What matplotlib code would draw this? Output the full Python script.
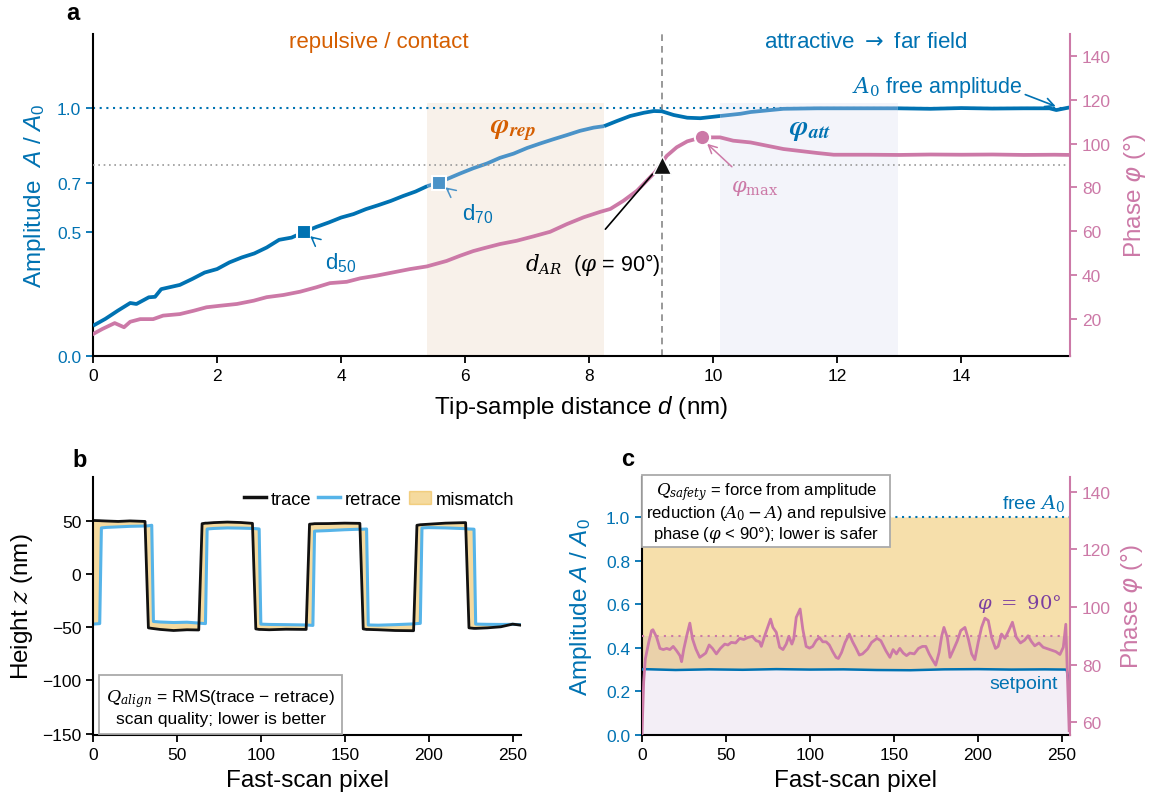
import numpy as np
import matplotlib
matplotlib.use('Agg')
import matplotlib.pyplot as plt
from matplotlib.patches import Patch
from matplotlib.lines import Line2D

plt.rcParams['font.family'] = ['Liberation Sans', 'DejaVu Sans']
plt.rcParams['mathtext.fontset'] = 'dejavuserif'
plt.rcParams['mathtext.rm'] = 'Liberation Sans'
plt.rcParams['mathtext.it'] = 'Liberation Sans:italic'
plt.rcParams['mathtext.bf'] = 'Liberation Sans:bold'
plt.rcParams['axes.linewidth'] = 1.5

BLUE = '#0072B2'
LBLUE = '#4b93c8'
PINK = '#CC79A7'
ORANGE = '#D55E00'
SKY = '#56B4E9'
AMBER = '#E69F00'
PURPLE = '#7b3fa0'
LAVENDER = '#8a5aa8'

# ---------------- panel a data ----------------
d_amp = [0, 0.2, 0.4, 0.6, 0.7, 0.9, 1.0, 1.1, 1.4, 1.6, 1.8, 2.0, 2.2, 2.4, 2.6, 2.8,
         3.0, 3.2, 3.4, 3.6, 3.8, 4.0, 4.2, 4.4, 4.6, 4.8, 5.0, 5.2, 5.39, 5.57, 5.76,
         5.92, 6.13, 6.35, 6.56, 6.78, 7.0, 7.21, 7.42, 7.64, 7.85, 8.07, 8.24, 8.45,
         8.66, 8.88, 9.04, 9.17, 9.36, 9.58, 9.79, 10.11, 10.44, 10.6, 11.13, 11.67,
         12.2, 12.97, 13.5, 14.0, 14.5, 15.0, 15.42, 15.53, 15.75]
amplitude = [0.122, 0.15, 0.183, 0.214, 0.21, 0.237, 0.239, 0.27, 0.287, 0.311, 0.337,
             0.351, 0.378, 0.398, 0.414, 0.438, 0.469, 0.478, 0.50, 0.521, 0.539, 0.559,
             0.573, 0.593, 0.609, 0.626, 0.646, 0.664, 0.686, 0.70, 0.72, 0.737, 0.758,
             0.777, 0.80, 0.817, 0.84, 0.858, 0.875, 0.892, 0.909, 0.922, 0.928, 0.949,
             0.969, 0.982, 0.989, 0.988, 0.973, 0.962, 0.96, 0.969, 0.978, 0.985, 0.998,
             1.0, 1.0, 1.0, 0.998, 1.001, 0.999, 1.0, 1.0, 0.993, 1.004]
d_phase = [0, 0.15, 0.35, 0.5, 0.6, 0.76, 0.97, 1.13, 1.4, 1.62, 1.83, 2.05, 2.32, 2.59,
           2.8, 3.07, 3.34, 3.6, 3.82, 4.09, 4.31, 4.57, 4.84, 5.11, 5.38, 5.7, 5.92,
           6.13, 6.3, 6.56, 6.83, 7.1, 7.37, 7.64, 7.91, 8.18, 8.34, 8.55, 8.77, 8.98,
           9.06, 9.25, 9.41, 9.58, 9.81, 10.11, 10.32, 10.6, 11.13, 11.67, 11.94, 12.5,
           13.0, 13.5, 14.0, 14.5, 15.0, 15.5, 15.75]
phase = [13.2, 15.5, 18.2, 16.3, 18.8, 20.0, 20.0, 21.6, 22.3, 23.8, 25.4, 26.1, 26.9,
         28.4, 30.0, 31.0, 32.5, 34.5, 36.4, 37.0, 38.6, 39.8, 41.3, 42.8, 44.0, 46.5,
         48.9, 51.0, 52.3, 54.2, 55.7, 57.7, 59.8, 63.3, 66.4, 68.9, 70.2, 73.9, 78.5,
         84.6, 86.9, 94.4, 98.3, 101.0, 102.8, 102.8, 101.3, 100.5, 97.5, 95.7, 94.9,
         94.9, 94.8, 95.0, 94.9, 95.0, 94.8, 94.9, 94.8]
rep_span = (5.39, 8.24)
att_span = (10.11, 12.97)
d50, d70, d_ar = 3.4, 5.57, 9.18
phi_max_d, phi_max = 9.81, 102.8

# ---------------- panel b data ----------------
pixel_b = [0, 4, 5, 8, 15, 22, 31, 33, 35, 36, 40, 48, 56, 63, 65, 67, 68, 72, 80, 88,
           95, 97, 99, 100, 105, 115, 127, 129, 131, 132, 140, 150, 159, 161, 163, 164,
           170, 180, 191, 193, 195, 196, 200, 210, 222, 224, 227, 228, 235, 243, 250, 255]
trace = [50.5, 50.3, 50.2, 50.0, 49.6, 50.1, 49.6, -50.5, -51.0, -51.2, -52.0, -53.0,
         -52.3, -52.5, 47.5, 48.0, 48.0, 48.5, 49.0, 48.6, 47.8, -51.5, -52.0, -52.0,
         -52.3, -51.8, -52.0, 47.0, 47.3, 47.5, 47.6, 48.0, 47.8, -51.5, -52.0, -52.0,
         -52.3, -53.0, -53.2, 46.0, 46.5, 46.6, 47.0, 48.0, 48.5, -50.5, -51.0, -51.0,
         -50.5, -49.5, -47.0, -48.0]
retrace = [-47.0, -46.5, 43.5, 44.0, 44.5, 45.0, 45.3, 45.5, 46.0, -44.5, -45.0, -45.5,
           -45.2, -46.0, -46.3, -46.5, 42.5, 43.0, 43.5, 43.3, 43.0, 42.8, 42.5, -47.0,
           -47.3, -47.5, -47.8, -48.0, -48.2, 40.5, 41.0, 41.8, 42.3, 42.3, 42.5, -47.8,
           -48.0, -47.5, -46.8, -46.5, -46.3, 43.5, 43.8, 43.5, 42.8, 42.5, 42.3, -47.0,
           -47.2, -47.3, -47.2, -47.5]

# ---------------- panel c data ----------------
pixel_c_phase = [0, 1, 2, 4, 5.7, 6.5, 8.7, 10.7, 12.7, 14.7, 16.6, 18.6, 20.6, 22.6, 23.6,
                 24.9, 26.9, 28.5, 30.1, 32.1, 34.4, 36.4, 38, 40, 42, 44.3, 46.7, 49.3,
                 51.2, 53.2, 55.8, 58.2, 60.6, 63.1, 65.7, 68, 70, 71.1, 73.1, 74.7, 76.6,
                 78, 80, 82, 84, 85.9, 87.5, 89.3, 90.4, 91.9, 94.2, 95.8, 97.8, 99.8,
                 101.7, 103.7, 105.7, 107.7, 109.7, 111.6, 113.6, 115.6, 117, 118.9, 121,
                 123.5, 125.5, 127.5, 129.5, 131.4, 134.4, 136.8, 140, 142.3, 145.3, 147.7,
                 149.6, 151.6, 153.6, 155.6, 157.6, 159.6, 162.2, 164.7, 167.1, 169.1,
                 171.1, 173, 175, 177, 178.6, 179.9, 181.9, 183.5, 185.3, 187.9, 189.9,
                 192.4, 194.4, 196.4, 198.3, 200.3, 202.3, 204.3, 206.3, 208.3, 210.6,
                 212.2, 214.2, 216.2, 218.5, 220.7, 223, 225.5, 228, 230, 232, 234, 236.5,
                 239, 241.5, 244, 246.5, 249, 251, 252.5, 253.5, 254.5]
phase_c = [56, 74, 82, 87.7, 91.8, 92.1, 89.5, 85.6, 85.2, 85.6, 85.2, 86.3, 84.8, 83.1,
           81.0, 85.4, 90.6, 94.4, 88.9, 85.4, 82.5, 83.3, 84.0, 86.8, 85.6, 83.7, 85.6,
           87.1, 86.8, 87.7, 87.5, 89.1, 88.7, 89.4, 89.8, 88.3, 87.9, 86.3, 90.0, 92.6,
           95.8, 92.9, 91.2, 86.0, 85.2, 87.1, 89.8, 87.1, 88.9, 96.4, 99.3, 92.3, 86.3,
           85.7, 86.3, 88.3, 89.4, 87.9, 87.9, 86.8, 84.5, 82.5, 82.1, 84.2, 87.7, 90.6,
           87.9, 85.7, 83.3, 83.7, 85.4, 87.7, 89.1, 88.3, 84.8, 82.5, 85.2, 83.7, 85.6,
           84.0, 83.1, 84.0, 83.7, 85.6, 86.3, 86.3, 83.7, 81.7, 79.8, 84.2, 90.0, 92.9,
           89.4, 82.5, 84.8, 88.3, 91.8, 92.9, 88.9, 83.7, 81.7, 87.7, 92.9, 96.1, 95.3,
           89.4, 85.6, 86.3, 90.6, 89.1, 91.8, 94.7, 89.5, 87.5, 88.5, 90.0, 88.0, 86.5,
           87.5, 86.0, 85.5, 85.0, 84.5, 83.5, 86.0, 94.0, 75.0, 57.0]
pixel_c_amp = [0, 1, 20, 40, 60, 80, 100, 120, 140, 160, 180, 200, 220, 240, 252, 253, 255]
amplitude_c = [0.30, 0.302, 0.298, 0.301, 0.299, 0.302, 0.300, 0.301, 0.298, 0.297, 0.301,
               0.302, 0.300, 0.301, 0.300, 0.299, 0.22]

# ---------------- figure ----------------
fig = plt.figure(figsize=(11.51, 8.03), dpi=100)
W, H = 1151.0, 803.0


def box(l, r, t, b):
    return [l / W, 1 - b / H, (r - l) / W, (b - t) / H]


# ======================= panel a =======================
ax = fig.add_axes(box(93, 1070, 35, 357))
ax.set_xlim(0, 15.75)
ax.set_ylim(0, 1.30)
ax2 = ax.twinx()
ax2.set_ylim(3.2, 149.9)

ax.fill_between(rep_span, 0, 1.02, color='#f8f1ea', lw=0, zorder=0)
ax.fill_between(att_span, 0, 1.02, color='#f3f4fa', lw=0, zorder=0)
ax.axhline(1.0, color=BLUE, lw=1.5, ls=(0, (1, 2.2)), zorder=1)
ax2.axhline(90, color='#999999', lw=1.2, ls=(0, (1, 2.2)), zorder=1)
ax.axvline(d_ar, color='#888888', lw=1.2, ls=(0, (4, 3)), zorder=1)

da = np.array(d_amp)
aa = np.array(amplitude)
bounds = [da[0], rep_span[0], rep_span[1], att_span[0], att_span[1], da[-1]]
seg_cols = [BLUE, LBLUE, BLUE, LBLUE, BLUE]
for i in range(5):
    m = (da >= bounds[i] - 1e-9) & (da <= bounds[i + 1] + 1e-9)
    ax.plot(da[m], aa[m], color=seg_cols[i], lw=2.7, solid_capstyle='butt', zorder=3)

ax.plot([d50], [0.5], 's', ms=10, color=BLUE, mec='white', mew=1.5, zorder=5)
ax.plot([d70], [0.7], 's', ms=10, color=LBLUE, mec='white', mew=1.5, zorder=5)

ax2.plot(d_phase, phase, color=PINK, lw=2.7, zorder=3)
ax2.plot([phi_max_d], [phi_max], 'o', ms=11, color=PINK, mec='white', mew=1.5, zorder=5)
ax2.plot([d_ar], [90], '^', ms=13, color='#111111', mec='white', mew=1.0, zorder=6)

for s in ['top', 'right']:
    ax.spines[s].set_visible(False)
for s in ['top', 'left', 'bottom']:
    ax2.spines[s].set_visible(False)
ax2.spines['right'].set_color(PINK)

ax.set_xticks([0, 2, 4, 6, 8, 10, 12, 14])
ax.set_yticks([0, 0.5, 0.7, 1.0])
ax.set_yticklabels(['0.0', '0.5', '0.7', '1.0'])
ax.tick_params(axis='y', colors=BLUE, labelsize=12.5, length=5, width=1.3)
ax.tick_params(axis='x', labelsize=12.5, length=5, width=1.3)
ax2.set_yticks([20, 40, 60, 80, 100, 120, 140])
ax2.tick_params(axis='y', colors=PINK, labelsize=12.5, length=5, width=1.3)

ax.set_xlabel('Tip-sample distance $d$ (nm)', fontsize=17.5, math_fontfamily='custom')
ax.xaxis.set_label_coords(0.5, -0.115)
ax.set_ylabel('Amplitude  $A$ / $A_0$', fontsize=17.5, color=BLUE, math_fontfamily='custom')
ax.yaxis.set_label_coords(-0.046, 0.5)
ax2.set_ylabel(r'Phase $\varphi$ (°)', fontsize=17.5, color=PINK, math_fontfamily='dejavusans')
ax2.yaxis.set_label_coords(1.053, 0.5)

T = ax.transData
ax2.text(4.6, 1.27, 'repulsive / contact', color=ORANGE, fontsize=16, ha='center', va='center', transform=T)
ax2.text(12.45, 1.27, r'attractive $\rightarrow$ far field', color=BLUE, fontsize=16, ha='center',
         va='center', transform=T, math_fontfamily='dejavusans')
ax2.text(6.78, 0.915, r'$\mathbfit{\varphi}_{\mathbfit{rep}}$', color=ORANGE, fontsize=20, ha='center',
         va='center', transform=T, math_fontfamily='stix')
ax2.text(11.56, 0.915, r'$\mathbfit{\varphi}_{\mathbfit{att}}$', color=BLUE, fontsize=20, ha='center',
         va='center', transform=T, math_fontfamily='stix')
ax2.annotate(r'$\varphi_{\max}$', xy=(9.9, 0.857), xytext=(10.66, 0.68), xycoords=T, textcoords=T,
             color=PINK, fontsize=15, ha='center', va='center',
             arrowprops=dict(arrowstyle='->', color=PINK, lw=1.1, shrinkA=9, shrinkB=0))
ax2.annotate('d$_{50}$', xy=(3.5, 0.484), xytext=(4.0, 0.379), xycoords=T, textcoords=T,
             color=BLUE, fontsize=16, ha='center', va='center', math_fontfamily='custom',
             arrowprops=dict(arrowstyle='->', color=BLUE, lw=1.1, shrinkA=10, shrinkB=0))
ax2.annotate('d$_{70}$', xy=(5.68, 0.681), xytext=(6.2, 0.577), xycoords=T, textcoords=T,
             color=BLUE, fontsize=16, ha='center', va='center', math_fontfamily='custom',
             arrowprops=dict(arrowstyle='->', color=LBLUE, lw=1.1, shrinkA=10, shrinkB=0))
ax2.text(8.05, 0.371, r'$d_{AR}$  ($\varphi$ = 90°)', fontsize=15.5, ha='center', va='center', transform=T)
ax2.annotate('', xy=(9.02, 0.734), xytext=(8.26, 0.512), xycoords=T, textcoords=T,
             arrowprops=dict(arrowstyle='-', color='k', lw=1.2, shrinkA=0, shrinkB=0))
ax2.annotate(r'$A_0$ free amplitude', xy=(15.52, 1.008), xytext=(13.61, 1.09), xycoords=T, textcoords=T,
             color=BLUE, fontsize=15.5, ha='center', va='center',
             arrowprops=dict(arrowstyle='->', color=BLUE, lw=1.2, shrinkA=0, shrinkB=0,
                             relpos=(1.0, 0.2)))

fig.text(73 / W, 1 - 14 / H, 'a', fontsize=17, fontweight='bold', ha='center', va='center')

# ======================= panel b =======================
bx = fig.add_axes(box(93, 521, 478, 736))
bx.set_xlim(0, 255)
bx.set_ylim(-151.3, 91.4)
bx.fill_between(pixel_b, trace, retrace, color=AMBER, alpha=0.38, lw=0)
bx.plot(pixel_b, retrace, color=SKY, lw=2.2)
bx.plot(pixel_b, trace, color='#111111', lw=2.0)
for s in ['top', 'right']:
    bx.spines[s].set_visible(False)
bx.set_xticks([0, 50, 100, 150, 200, 250])
bx.set_yticks([50, 0, -50, -100, -150])
bx.tick_params(labelsize=12.5, length=5, width=1.3)
bx.set_xlabel('Fast-scan pixel', fontsize=17.5)
bx.xaxis.set_label_coords(0.5, -0.13)
bx.set_ylabel('Height $z$ (nm)', fontsize=17.5)
bx.yaxis.set_label_coords(-0.135, 0.5)
handles = [Line2D([], [], color='#111111', lw=2.5), Line2D([], [], color=SKY, lw=2.5),
           Patch(color=AMBER, alpha=0.38)]
bx.legend(handles, ['trace', 'retrace', 'mismatch'], loc='upper right', ncol=3, frameon=False,
          fontsize=13.2, handlelength=1.2, handletextpad=0.25, columnspacing=0.4,
          bbox_to_anchor=(1.01, 0.99), borderaxespad=0.2)
bx.text(0.298, 0.11, '$Q_{align}$ = RMS(trace − retrace)\nscan quality; lower is better',
        transform=bx.transAxes, ha='center', va='center', ma='center', fontsize=12.5,
        bbox=dict(boxstyle='square,pad=0.42', fc='white', ec='#aaaaaa', lw=1.3))
fig.text(80 / W, 1 - 461 / H, 'b', fontsize=17, fontweight='bold', ha='center', va='center')

# ======================= panel c =======================
cx = fig.add_axes(box(642, 1070, 478, 736))
cx.set_xlim(0, 255)
amp_hi = 1.183
cx.set_ylim(0, amp_hi)
cx2 = cx.twinx()
ph_lo, ph_hi = 55.5, 145.2
cx2.set_ylim(ph_lo, ph_hi)

cx.fill_between(pixel_c_amp, amplitude_c, 1.0, color=AMBER, alpha=0.33, lw=0, zorder=0)
y90 = (90 - ph_lo) / (ph_hi - ph_lo) * amp_hi
cx.axhspan(0, y90, color=LAVENDER, alpha=0.10, lw=0, zorder=0)
cx.axhline(1.0, color=BLUE, lw=1.5, ls=(0, (1, 2.2)), zorder=1)
cx.plot(pixel_c_amp, amplitude_c, color=BLUE, lw=1.8, zorder=3)
cx2.axhline(90, color=PINK, lw=1.5, ls=(0, (1, 2.5)), zorder=1)
cx2.plot(pixel_c_phase, phase_c, color=PINK, lw=2.0, zorder=3)

for s in ['top', 'right']:
    cx.spines[s].set_visible(False)
for s in ['top', 'left', 'bottom']:
    cx2.spines[s].set_visible(False)
cx2.spines['right'].set_color(PINK)
cx.set_xticks([0, 50, 100, 150, 200, 250])
cx.set_yticks([0, 0.2, 0.4, 0.6, 0.8, 1.0])
cx.set_yticklabels(['0.0', '0.2', '0.4', '0.6', '0.8', '1.0'])
cx.tick_params(axis='y', colors=BLUE, labelsize=12.5, length=5, width=1.3)
cx.tick_params(axis='x', labelsize=12.5, length=5, width=1.3)
cx2.set_yticks([60, 80, 100, 120, 140])
cx2.tick_params(axis='y', colors=PINK, labelsize=12.5, length=5, width=1.3)
cx.set_xlabel('Fast-scan pixel', fontsize=17.5)
cx.xaxis.set_label_coords(0.5, -0.13)
cx.set_ylabel('Amplitude $A$ / $A_0$', fontsize=17.5, color=BLUE, math_fontfamily='custom')
cx.yaxis.set_label_coords(-0.112, 0.5)
cx2.set_ylabel(r'Phase $\varphi$ (°)', fontsize=17.5, color=PINK, math_fontfamily='dejavusans')
cx2.yaxis.set_label_coords(1.114, 0.5)

cx.text(251.8, 1.02, 'free $A_0$', color=BLUE, fontsize=14, ha='right', va='bottom')
cx.text(248, 0.234, 'setpoint', color=BLUE, fontsize=14, ha='right', va='center')
cx2.text(250, 97.5, r'$\varphi\ =\ 90°$', color=PURPLE, fontsize=14, ha='right', va='bottom')
cx.text(0.29, 0.865, '$Q_{safety}$ = force from amplitude\nreduction ($A_0 - A$) and repulsive\n'
        r'phase ($\varphi$ < 90°); lower is safer',
        transform=cx.transAxes, ha='center', va='center', ma='center', fontsize=12, zorder=10,
        linespacing=1.1,
        bbox=dict(boxstyle='square,pad=0.2', fc='white', ec='#aaaaaa', lw=1.3))
fig.text(628 / W, 1 - 460 / H, 'c', fontsize=17, fontweight='bold', ha='center', va='center')

fig.savefig('out.png', dpi=100)
